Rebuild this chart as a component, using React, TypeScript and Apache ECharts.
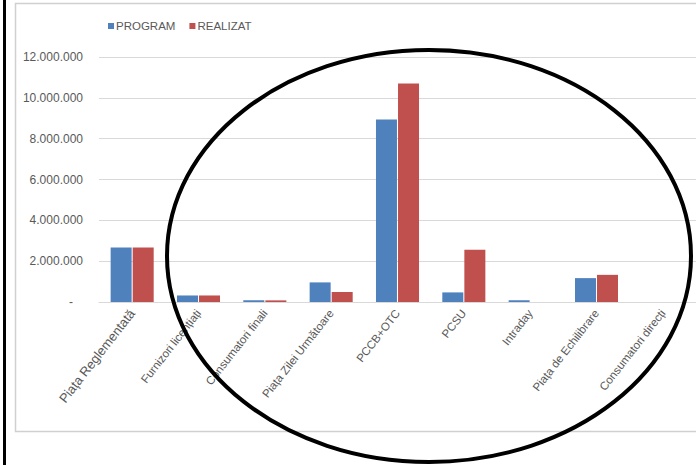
import React, { useEffect, useRef } from "react";
import * as echarts from "echarts";

// Categories of the electricity market segments
const categories = [
  "Piața Reglementată",
  "Furnizori licențiați",
  "Consumatori finali",
  "Piața Zilei Următoare",
  "PCCB+OTC",
  "PCSU",
  "Intraday",
  "Piața de Echilibrare",
  "Consumatori direcți",
];

const seriesNames = ["PROGRAM", "REALIZAT"];

// Quantities per segment
const programValues = [2670000, 320000, 80000, 960000, 8940000, 470000, 80000, 1170000, 0];
const realizatValues = [2670000, 320000, 80000, 490000, 10700000, 2560000, 0, 1330000, 0];

const yTicks = [0, 2000000, 4000000, 6000000, 8000000, 10000000, 12000000];

const FONT = "'Liberation Sans', Arial, sans-serif";

function formatThousands(v: number): string {
  if (v === 0) return "-   ";
  return String(Math.round(v)).replace(/\B(?=(\d{3})+(?!\d))/g, ".");
}

export default function App() {
  const ref = useRef<HTMLDivElement>(null);

  useEffect(() => {
    document.body.style.margin = "0";
    if (!ref.current) return;
    const chart = echarts.init(ref.current, null, { renderer: "svg" });

    chart.setOption({
      animation: false,
      backgroundColor: "#ffffff",
      textStyle: { fontFamily: FONT },
      legend: {
        data: seriesNames,
        left: 103,
        top: 15,
        icon: "rect",
        itemWidth: 6,
        itemHeight: 6,
        itemGap: 14,
        textStyle: { fontSize: 11.5, color: "#595959", fontFamily: FONT, padding: [0, 0, 0, -3] },
      },
      grid: { left: 99, top: 57, right: -6, bottom: 163, containLabel: false },
      xAxis: {
        type: "category",
        data: categories,
        axisLine: { show: true, lineStyle: { color: "#d9d9d9", width: 1 } },
        axisTick: { show: false },
        axisLabel: {
          interval: 0,
          rotate: 52,
          margin: 9,
          color: "#595959",
          fontSize: 11.5,
          fontFamily: FONT,
          formatter: (v: string, i: number) => (i === 0 ? `{big|${v}}` : v),
          rich: { big: { fontSize: 13, color: "#595959", fontFamily: FONT } },
        },
      },
      yAxis: {
        type: "value",
        min: yTicks[0],
        max: yTicks[yTicks.length - 1],
        interval: yTicks[1] - yTicks[0],
        axisLine: { show: false },
        axisTick: { show: false },
        splitLine: { lineStyle: { color: "#d9d9d9", width: 1 } },
        axisLabel: {
          margin: 16,
          color: "#595959",
          fontSize: 12,
          fontFamily: FONT,
          formatter: (v: number) => formatThousands(v),
        },
      },
      series: [
        {
          name: seriesNames[0],
          type: "bar",
          data: programValues,
          barWidth: 21,
          barGap: "5%",
          itemStyle: { color: "#4f81bd" },
        },
        {
          name: seriesNames[1],
          type: "bar",
          data: realizatValues,
          barWidth: 21,
          barGap: "5%",
          itemStyle: { color: "#c0504d" },
        },
      ],
      graphic: [
        {
          type: "rect",
          z: -1,
          silent: true,
          shape: { x: 15.5, y: 3.5, width: 700, height: 428 },
          style: { fill: "none", stroke: "#d0d0d0", lineWidth: 1.5 },
        },
        {
          type: "line",
          silent: true,
          shape: { x1: 4.5, y1: 0, x2: 4.5, y2: 465 },
          style: { stroke: "#000000", lineWidth: 3 },
        },
        {
          type: "ellipse",
          z: 100,
          silent: true,
          shape: { cx: 429, cy: 256, rx: 262, ry: 206 },
          style: { fill: "none", stroke: "#000000", lineWidth: 4 },
        },
      ],
    });

    return () => chart.dispose();
  }, []);

  return <div ref={ref} style={{ width: 696, height: 465 }} />;
}
